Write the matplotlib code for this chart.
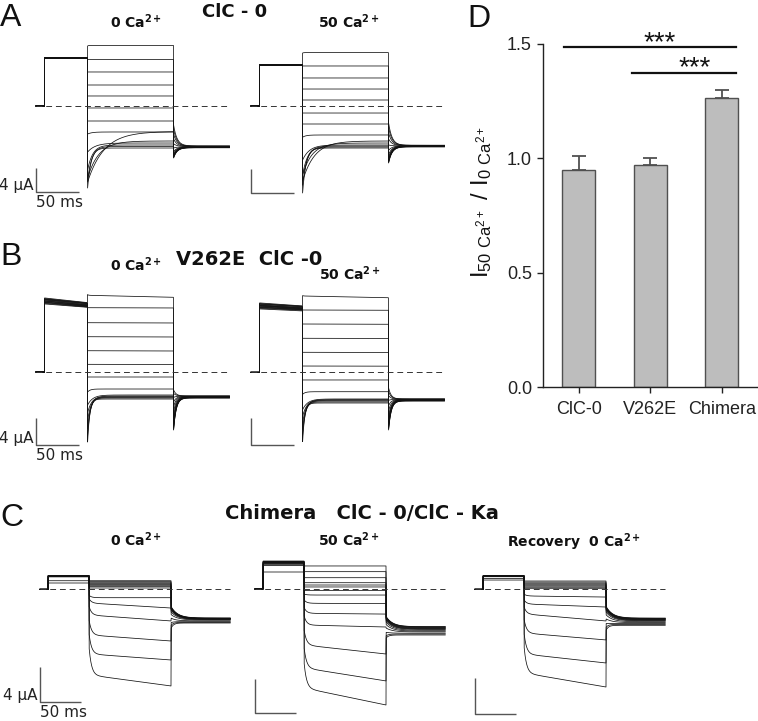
import numpy as np
import matplotlib
matplotlib.use("Agg")
import matplotlib.pyplot as plt

plt.rcParams['font.family'] = ['Liberation Sans', 'DejaVu Sans']

# ======================= DATA =======================
# Panel D: ratio I(50 Ca) / I(0 Ca)
groups = ['ClC-0', 'V262E', 'Chimera']
ratio_mean = [0.95, 0.97, 1.265]
ratio_sem = [0.06, 0.03, 0.035]
sig_from = [-0.2, 0.75]
sig_to = [2.2, 2.2]
sig_level = [1.486, 1.375]
sig_star_x = [1.13, 1.62]
sig_star_y = [1.474, 1.363]
sig_text = ['***', '***']
yticks_D = [0.0, 0.5, 1.0, 1.5]
ytick_labels_D = ['0.0', '0.5', '1.0', '1.5']

# Voltage protocol times (ms): prepulse start, test start, tail start, end
protocol_AB = [10, 60, 160, 225]
protocol_C = [10, 60, 160, 232]

# --- A: ClC-0, 0 Ca2+  (currents in uA)
A0_pre_a = [8.05, 8.05, 8.0, 8.0, 8.0, 8.0, 7.95, 7.95, 7.95, 8.0, 8.0, 8.0, 8.05, 8.0]
A0_pre_b = A0_pre_a
A0_i0 = [10.0, 7.75, 5.67, 3.5, 1.67, -0.33, -2.5, -4.67, -12.67, -12.0, -7.67, -10.67, -12.33, -13.67]
A0_knee = [10.1, 7.75, 5.67, 3.5, 1.67, -0.33, -2.5, -4.33, -4.25, -5.83, -6.17, -6.5, -6.75, -7.0]
A0_end = A0_knee
A0_tau = [1, 1, 1, 1, 1, 1, 1, 5, 19, 13, 9, 6, 5, 4]
A0_tail0 = [-8.67, -8.6, -8.5, -8.4, -8.3, -8.1, -7.9, -7.6, -7.0, -6.3, -5.5, -4.7, -3.9, -3.17]
A0_tailss = [-6.95, -6.95, -6.9, -6.9, -6.9, -6.85, -6.85, -6.8, -6.8, -6.75, -6.75, -6.7, -6.7, -6.65]
A0_tailtau = [4, 4, 4, 4, 4, 4, 4, 4, 4, 4, 4, 4, 4, 4]

# --- A: ClC-0, 50 Ca2+
A50_pre_a = [6.85, 6.85, 6.83, 6.83, 6.8, 6.8, 6.83, 6.83, 6.85, 6.85, 6.8, 6.8, 6.83, 6.83]
A50_pre_b = A50_pre_a
A50_i0 = [8.83, 6.67, 4.67, 2.83, 1.0, -1.17, -3.0, -5.2, -12.5, -11.5, -9.0, -11.5, -13.2, -14.5]
A50_knee = [8.9, 6.67, 4.67, 2.83, 1.0, -1.17, -3.0, -4.83, -5.83, -6.17, -6.5, -6.67, -6.83, -7.0]
A50_end = A50_knee
A50_tau = [1, 1, 1, 1, 1, 1, 1, 4, 14, 11, 8, 6, 5, 4]
A50_tail0 = [-9.5, -9.4, -9.3, -9.2, -9.0, -8.8, -8.5, -8.1, -7.4, -6.5, -5.5, -4.5, -3.6, -2.83]
A50_tailss = [-6.8, -6.8, -6.75, -6.75, -6.7, -6.7, -6.7, -6.65, -6.65, -6.65, -6.6, -6.6, -6.55, -6.55]
A50_tailtau = [4, 4, 4, 4, 4, 4, 4, 4, 4, 4, 4, 4, 4, 4]

# --- B: V262E ClC-0, 0 Ca2+
B0_pre_a = [11.1, 11.0, 10.95, 10.9, 10.85, 10.8, 10.7, 10.65, 10.6, 10.5, 10.45, 10.4, 10.3, 10.2]
B0_pre_b = [10.4, 10.35, 10.3, 10.25, 10.2, 10.1, 10.05, 10.0, 9.95, 9.9, 9.85, 9.8, 9.75, 9.7]
B0_i0 = [11.6, 9.64, 7.39, 5.29, 3.19, 1.15, -0.75, -3.0, -4.95, -6.1, -7.3, -8.5, -9.6, -10.5]
B0_knee = [11.5, 9.64, 7.39, 5.29, 3.19, 1.15, -0.75, -2.55, -3.45, -3.6, -3.7, -3.8, -3.9, -4.05]
B0_end = [11.2, 9.6, 7.35, 5.25, 3.15, 1.12, -0.75, -2.55, -3.45, -3.6, -3.7, -3.8, -3.9, -4.05]
B0_tau = [1, 1, 1, 1, 1, 1, 1, 3, 6, 5, 4, 3.5, 3, 2.5]
B0_tail0 = [-8.7, -8.6, -8.4, -8.2, -8.0, -7.7, -7.3, -6.8, -6.0, -5.2, -4.5, -3.8, -3.2, -2.7]
B0_tailss = [-3.9, -3.88, -3.85, -3.82, -3.8, -3.78, -3.75, -3.72, -3.7, -3.68, -3.65, -3.62, -3.6, -3.6]
B0_tailtau = [3, 3, 3, 3, 3, 3, 3, 3, 3, 3, 3, 3, 3, 3]

# --- B: V262E ClC-0, 50 Ca2+
B50_pre_a = [10.4, 10.3, 10.25, 10.2, 10.1, 10.05, 10.0, 9.95, 9.9, 9.8, 9.75, 9.7, 9.6, 9.5]
B50_pre_b = [9.95, 9.9, 9.85, 9.8, 9.7, 9.65, 9.6, 9.55, 9.5, 9.45, 9.4, 9.35, 9.3, 9.2]
B50_i0 = [11.5, 9.34, 7.24, 5.1, 3.0, 0.94, -1.15, -3.3, -5.6, -6.6, -7.6, -8.6, -9.5, -10.4]
B50_knee = [11.44, 9.34, 7.24, 5.1, 3.0, 0.94, -1.15, -2.91, -4.0, -4.1, -4.2, -4.3, -4.45, -4.6]
B50_end = [11.18, 9.3, 7.2, 5.07, 2.97, 0.92, -1.15, -2.91, -4.0, -4.1, -4.2, -4.3, -4.45, -4.6]
B50_tau = [1, 1, 1, 1, 1, 1, 1, 3, 6, 5, 4, 3.5, 3, 2.5]
B50_tail0 = [-8.65, -8.5, -8.3, -8.1, -7.8, -7.5, -7.1, -6.6, -5.8, -5.0, -4.2, -3.5, -2.9, -2.35]
B50_tailss = [-4.3, -4.28, -4.25, -4.22, -4.2, -4.18, -4.15, -4.12, -4.1, -4.08, -4.05, -4.03, -4.0, -4.0]
B50_tailtau = [3, 3, 3, 3, 3, 3, 3, 3, 3, 3, 3, 3, 3, 3]

# --- C: Chimera ClC-0/ClC-Ka, 0 Ca2+
C0_pre_a = [0.72, 0.98, 1.42, 1.45, 1.47, 1.49, 1.5, 1.52, 1.53, 1.54, 1.55, 1.55, 1.56, 1.57]
C0_pre_b = C0_pre_a
C0_i0 = [0.98, 0.87, 0.75, 0.64, 0.53, 0.41, 0.30, 0.15, -0.7, -1.1, -2.0, -3.6, -5.2, -6.8]
C0_knee = [0.98, 0.87, 0.75, 0.64, 0.53, 0.41, 0.30, 0.15, -0.96, -1.57, -2.94, -5.22, -7.39, -9.79]
C0_end = [0.98, 0.87, 0.75, 0.64, 0.53, 0.41, 0.30, 0.15, -0.96, -2.14, -3.62, -5.91, -8.08, -11.05]
C0_tau = [1, 1, 1, 1, 1, 1, 1, 1, 3, 3, 3, 3, 3, 3]
C0_tail0 = [-2.0, -2.05, -2.1, -2.15, -2.2, -2.25, -2.3, -2.4, -2.6, -2.9, -3.3, -3.8, -4.1, -4.42]
C0_tailss = [-3.28, -3.3, -3.32, -3.34, -3.36, -3.38, -3.4, -3.42, -3.45, -3.5, -3.6, -3.7, -3.78, -3.85]
C0_tailtau = [8, 8, 8, 8, 8, 8, 8, 8, 8, 8, 6, 3, 3, 3]

# --- C: Chimera, 50 Ca2+
C50_pre_a = [2.0, 2.75, 2.85, 2.95, 3.0, 3.05, 3.1, 3.12, 3.15, 3.18, 3.2, 3.22, 3.25, 3.29]
C50_pre_b = C50_pre_a
C50_i0 = [2.71, 2.04, 1.33, 0.74, 0.47, 0.24, -0.18, -0.6, -1.3, -2.2, -3.2, -4.9, -7.0, -8.8]
C50_knee = [2.71, 2.04, 1.33, 0.74, 0.47, 0.24, -0.18, -0.71, -1.68, -2.86, -4.24, -6.59, -9.29, -11.65]
C50_end = [2.71, 2.04, 1.33, 0.74, 0.47, 0.24, -0.18, -0.71, -1.72, -2.95, -4.47, -7.65, -10.82, -13.65]
C50_tau = [1, 1, 1, 1, 1, 1, 1, 3, 3, 3, 3, 3, 3, 3]
C50_tail0 = [-3.26, -3.3, -3.35, -3.4, -3.45, -3.5, -3.6, -3.7, -3.9, -4.2, -4.6, -5.1, -5.5, -5.76]
C50_tailss = [-4.43, -4.45, -4.5, -4.55, -4.6, -4.65, -4.7, -4.75, -4.85, -4.95, -5.05, -5.2, -5.3, -5.41]
C50_tailtau = [8, 8, 8, 8, 8, 8, 8, 8, 8, 8, 8, 6, 3, 3]

# --- C: Chimera, recovery 0 Ca2+
CR_pre_a = [1.03, 1.2, 1.4, 1.42, 1.44, 1.45, 1.46, 1.47, 1.48, 1.49, 1.5, 1.5, 1.51, 1.52]
CR_pre_b = CR_pre_a
CR_i0 = [0.92, 0.8, 0.68, 0.57, 0.46, 0.35, 0.23, 0.11, -0.55, -1.2, -2.0, -3.4, -5.0, -6.5]
CR_knee = [0.92, 0.8, 0.68, 0.57, 0.46, 0.35, 0.23, 0.11, -0.74, -1.63, -2.74, -4.86, -7.19, -9.3]
CR_end = [0.92, 0.8, 0.68, 0.57, 0.46, 0.35, 0.23, 0.11, -0.86, -1.97, -3.52, -5.63, -8.19, -10.86]
CR_tau = [1, 1, 1, 1, 1, 1, 1, 1, 3, 3, 3, 3, 3, 3]
CR_tail0 = [-1.93, -1.98, -2.03, -2.08, -2.13, -2.18, -2.25, -2.35, -2.55, -2.85, -3.3, -3.8, -4.2, -4.52]
CR_tailss = [-3.2, -3.23, -3.26, -3.3, -3.33, -3.36, -3.4, -3.45, -3.5, -3.6, -3.7, -3.8, -3.9, -4.0]
CR_tailtau = [8, 8, 8, 8, 8, 8, 8, 8, 8, 8, 8, 4, 3, 3]

scale_ms = 50
scale_uA = 4

# ======================= LAYOUT =======================
W, H = 758, 721
fig = plt.figure(figsize=(W / 100, H / 100), dpi=100)

def px(x, y):
    return x / W, 1 - y / H

def trace_axes(x0, y0, px_ms, px_ua):
    ax = fig.add_axes([0, 0, 1, 1])
    ax.set_xlim(-x0 / px_ms, (W - x0) / px_ms)
    ax.set_ylim((y0 - H) / px_ua, y0 / px_ua)
    ax.axis('off')
    ax.patch.set_alpha(0)
    return ax

def sweep(t, proto, pa, pb, i0, knee, end, tau, ti0, tss, ttau):
    tp, tt, tl, te = proto
    y = np.zeros_like(t)
    m = (t >= tp) & (t < tt)
    y[m] = pa + (pb - pa) * (t[m] - tp) / (tt - tp)
    m = (t >= tt) & (t < tl)
    s = t[m] - tt
    y[m] = knee + (end - knee) * s / (tl - tt) + (i0 - knee) * np.exp(-s / tau)
    m = t >= tl
    s = t[m] - tl
    y[m] = tss + (ti0 - tss) * np.exp(-s / ttau)
    return y

def draw_family(ax, proto, pa, pb, i0, knee, end, tau, ti0, tss, ttau, bar_bottom, label_bar):
    t = np.arange(0, proto[3] + 0.125, 0.25)
    for k in range(len(i0)):
        y = sweep(t, proto, pa[k], pb[k], i0[k], knee[k], end[k], tau[k], ti0[k], tss[k], ttau[k])
        ax.plot(t, y, color='#111111', lw=0.55, clip_on=False)
    ax.plot([0, proto[3]], [0, 0], color='#333333', lw=0.7, ls=(0, (6, 4)), clip_on=False)
    ax.plot([0, 0, scale_ms], [bar_bottom + scale_uA, bar_bottom, bar_bottom],
            color='#555555', lw=1.0, clip_on=False, solid_capstyle='butt')
    if label_bar:
        ax.annotate('%d μA' % scale_uA, (0, bar_bottom), xytext=(-2, 1.5), textcoords='offset points',
                    ha='right', va='baseline', fontsize=11, family='DejaVu Sans', color='#222222')
        ax.annotate('%d ms' % scale_ms, (0, bar_bottom), xytext=(0, -2), textcoords='offset points',
                    ha='left', va='top', fontsize=11, family='DejaVu Sans', color='#222222')

# panel geometry: (x of t=0 px, y of I=0 px, px per ms, px per uA), scale bar bottom in uA
axA0 = trace_axes(36, 106, 0.86, 6.0)
draw_family(axA0, protocol_AB, A0_pre_a, A0_pre_b, A0_i0, A0_knee, A0_end, A0_tau,
            A0_tail0, A0_tailss, A0_tailtau, -14.33, True)
axA50 = trace_axes(251, 106, 0.86, 6.0)
draw_family(axA50, protocol_AB, A50_pre_a, A50_pre_b, A50_i0, A50_knee, A50_end, A50_tau,
            A50_tail0, A50_tailss, A50_tailtau, -14.45, False)
axB0 = trace_axes(36, 372, 0.86, 6.67)
draw_family(axB0, protocol_AB, B0_pre_a, B0_pre_b, B0_i0, B0_knee, B0_end, B0_tau,
            B0_tail0, B0_tailss, B0_tailtau, -10.94, True)
axB50 = trace_axes(251, 372.3, 0.86, 6.67)
draw_family(axB50, protocol_AB, B50_pre_a, B50_pre_b, B50_i0, B50_knee, B50_end, B50_tau,
            B50_tail0, B50_tailss, B50_tailtau, -10.9, False)
axC0 = trace_axes(40, 589.3, 0.82, 8.75)
draw_family(axC0, protocol_C, C0_pre_a, C0_pre_b, C0_i0, C0_knee, C0_end, C0_tau,
            C0_tail0, C0_tailss, C0_tailtau, -12.85, True)
axC50 = trace_axes(255, 589, 0.82, 8.5)
draw_family(axC50, protocol_C, C50_pre_a, C50_pre_b, C50_i0, C50_knee, C50_end, C50_tau,
            C50_tail0, C50_tailss, C50_tailtau, -14.6, False)
axCR = trace_axes(475, 589.3, 0.82, 9.0)
draw_family(axCR, protocol_C, CR_pre_a, CR_pre_b, CR_i0, CR_knee, CR_end, CR_tau,
            CR_tail0, CR_tailss, CR_tailtau, -13.86, False)

# ---- texts of trace panels
def ftext(x, y, s, **kw):
    fig.text(*px(x, y), s, **kw)

for letter, (lx, ly) in zip('ABC', [(0, 26), (0, 265), (0, 526)]):
    ftext(lx, ly, letter, fontsize=23, va='baseline', ha='left', color='#111111')
ftext(467, 27, 'D', fontsize=23, va='baseline', ha='left', color='#111111')

title_kw = dict(family='DejaVu Sans', weight='bold', ha='center', va='baseline', color='#111111')
ftext(235, 17, 'ClC - 0', fontsize=13, **title_kw)
ftext(249, 265, 'V262E  ClC -0', fontsize=14, **title_kw)
ftext(362, 519, 'Chimera   ClC - 0/ClC - Ka', fontsize=14, **title_kw)

sub_kw = dict(fontsize=10, family='DejaVu Sans', weight='bold', ha='left', va='baseline', color='#111111')
ca = r'Ca$^{\mathbf{2+}}$'
ftext(110, 28, '0 ' + ca, **sub_kw)
ftext(318, 28, '50 ' + ca, **sub_kw)
ftext(110, 271, '0 ' + ca, **sub_kw)
ftext(319, 280, '50 ' + ca, **sub_kw)
ftext(110, 546, '0 ' + ca, **sub_kw)
ftext(318, 546, '50 ' + ca, **sub_kw)
ftext(507, 547, 'Recovery  0 ' + ca, **sub_kw)

# ======================= PANEL D =======================
axD = fig.add_axes([543 / W, 1 - 387 / H, 214.5 / W, 343 / H])
xpos = np.arange(len(groups))
axD.errorbar(xpos, ratio_mean, yerr=[np.zeros(len(groups)), ratio_sem], fmt='none',
             ecolor='#505050', elinewidth=1.3, capsize=5, capthick=1.3, zorder=1)
axD.bar(xpos, ratio_mean, width=0.46, color='#bdbdbd', edgecolor='#505050', lw=1.0, zorder=2)
axD.set_xlim(-0.5, 2.5)
axD.set_ylim(0, 1.5)
for sp in ['top', 'right']:
    axD.spines[sp].set_visible(False)
for sp in ['left', 'bottom']:
    axD.spines[sp].set_linewidth(1.0)
    axD.spines[sp].set_color('#222222')
axD.set_yticks(yticks_D)
axD.set_yticklabels(ytick_labels_D)
axD.set_xticks(xpos)
axD.set_xticklabels(groups)
axD.tick_params(axis='both', direction='out', length=4, width=1.0, labelsize=13,
                colors='#222222')
axD.tick_params(axis='x', pad=6)
axD.tick_params(axis='y', pad=4)
for a, b, lev, sx, sy, s in zip(sig_from, sig_to, sig_level, sig_star_x, sig_star_y, sig_text):
    axD.plot([a, b], [lev, lev], color='#111111', lw=1.6, clip_on=False)
    axD.text(sx, sy, s, ha='center', va='baseline', fontsize=20, color='#111111', clip_on=False)

ftext(482, 202, r'$\mathregular{I_{50\ Ca^{2+}}\ /\ I_{0\ Ca^{2+}}}$', rotation=90,
      ha='center', va='center', fontsize=17, color='#111111')

fig.savefig('out.png', dpi=100)
